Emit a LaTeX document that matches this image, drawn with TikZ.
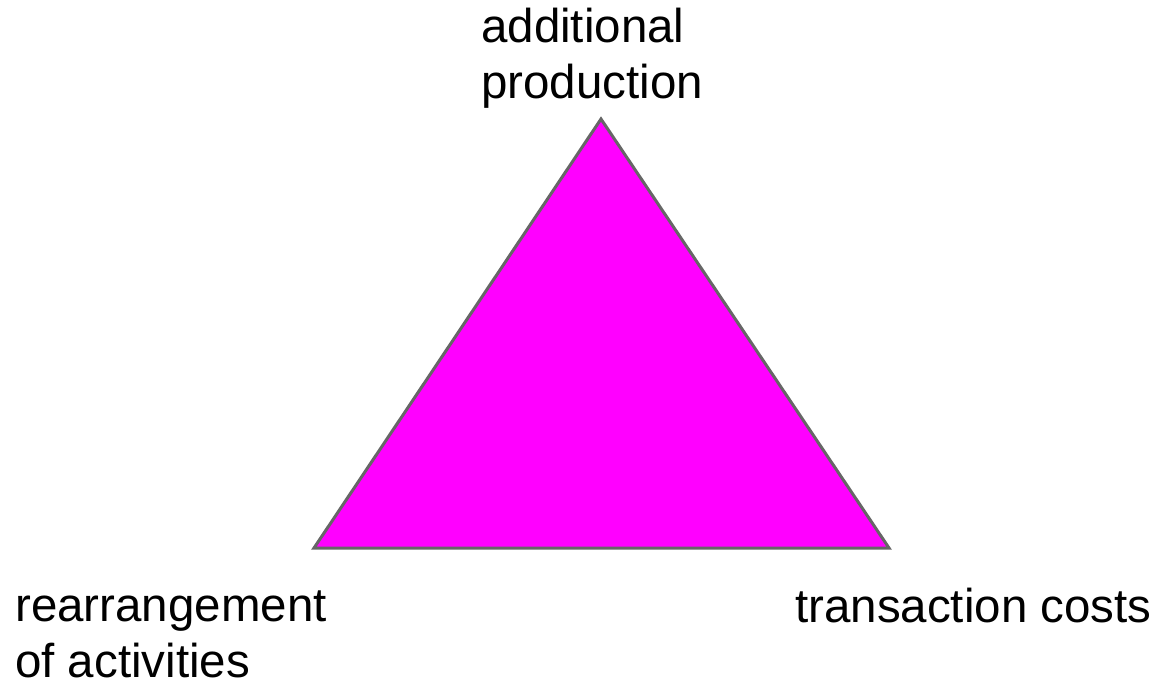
\documentclass[tikz,border=0pt]{standalone}
\usepackage{fontspec}
\setmainfont{Liberation Sans}
\definecolor{apexfill}{HTML}{FF00FF}
\definecolor{edgegray}{HTML}{666666}
\tikzset{
  label text/.style={inner sep=0pt, font=\fontsize{47.5}{56}\selectfont, align=left},
  tri/.style={fill=apexfill, draw=edgegray, line width=3pt, line join=miter}
}
\begin{document}
\begin{tikzpicture}[x=1pt, y=-1pt]
  \useasboundingbox[fill=white] (0,0) rectangle (1160,684);
  % corners of the triangle
  \coordinate (top) at (601,119);
  \coordinate (left) at (314,548);
  \coordinate (right) at (889,548);
  \draw[tri] (top) -- (left) -- (right) -- cycle;
  % corner labels (base anchor sits on the last line)
  \node[label text, anchor=base west] (prod) at (481,99) {additional\\production};
  \node[label text, anchor=base west] (rearr) at (15,677) {rearrangement\\of activities};
  \node[label text, anchor=base west] (trans) at (795,622) {transaction costs};
\end{tikzpicture}
\end{document}
